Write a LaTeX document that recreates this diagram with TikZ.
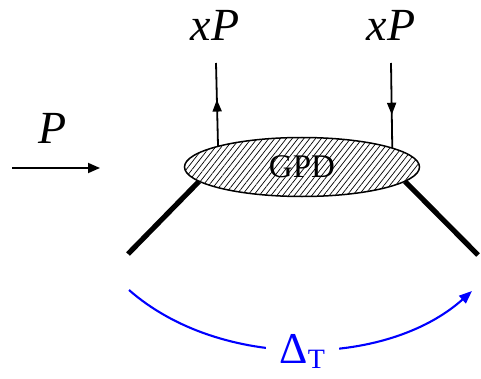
\documentclass[tikz,border=0pt]{standalone}
\usepackage{fontspec}
\setmainfont{Liberation Serif}
\usepackage{tikz}
\usetikzlibrary{arrows.meta,positioning,shapes.geometric,patterns.meta,decorations.markings}

\begin{document}
\begin{tikzpicture}[
  x=1pt, y=1pt,
  lbl/.style={font=\fontsize{46}{50}\selectfont\itshape, inner sep=0pt, anchor=base},
  blob/.style={ellipse, draw, line width=1.5pt, minimum width=235pt, minimum height=59pt,
               inner sep=0pt, font=\fontsize{33}{36}\selectfont,
               pattern={Lines[angle=52, distance=4.6pt, line width=0.7pt]}},
  leg/.style={line width=5.2pt},
  quark/.style={line width=1.8pt},
  midup/.style={quark, postaction={decorate}, decoration={markings,
                mark=at position #1 with {\arrow{Triangle[length=12pt, width=9pt]}}}},
  arr/.style={-{Triangle[length=12pt, width=10pt]}, line width=1.8pt}
]
  \useasboundingbox (0,0) rectangle (481,378);

  \node[blob] (gpd) at (302,211) {GPD};

  % momenta labels
  \node[lbl] (xpl) at (215,337) {xP};
  \node[lbl] (xpr) at (391,337) {xP};
  \node[lbl] (p) at (53,234) {P};

  \coordinate (ql) at (216,315);
  \coordinate (qr) at (391,315);
  \coordinate (pin) at (12,210);
  \coordinate (pout) at (100,210);
  \coordinate (nl) at (128,124);
  \coordinate (nr) at (478,123);
  \coordinate (dl) at (129,88);
  \coordinate (dr) at (472,87);

  % quark lines
  \draw[midup=0.56] (gpd.166.9) -- (ql);
  \draw[midup=0.61] (qr) -- (gpd.12.2);

  % incoming proton
  \draw[arr] (pin) -- (pout);

  % nucleon legs
  \draw[leg] (gpd.188.1) -- (nl);
  \draw[leg] (gpd.352.2) -- (nr);

  % momentum transfer
  \draw[blue, line width=2.1pt, -{Triangle[length=13pt, width=10pt]}]
    (dl) .. controls (220,8) and (386,10) ..
    node[pos=0.5, fill=white, inner xsep=14pt, inner ysep=1pt,
         font=\fontsize{44}{48}\selectfont, yshift=-2pt] (dt)
    {Δ\raisebox{-0.25ex}{\fontsize{28}{30}\selectfont T}} (dr);
\end{tikzpicture}
\end{document}
